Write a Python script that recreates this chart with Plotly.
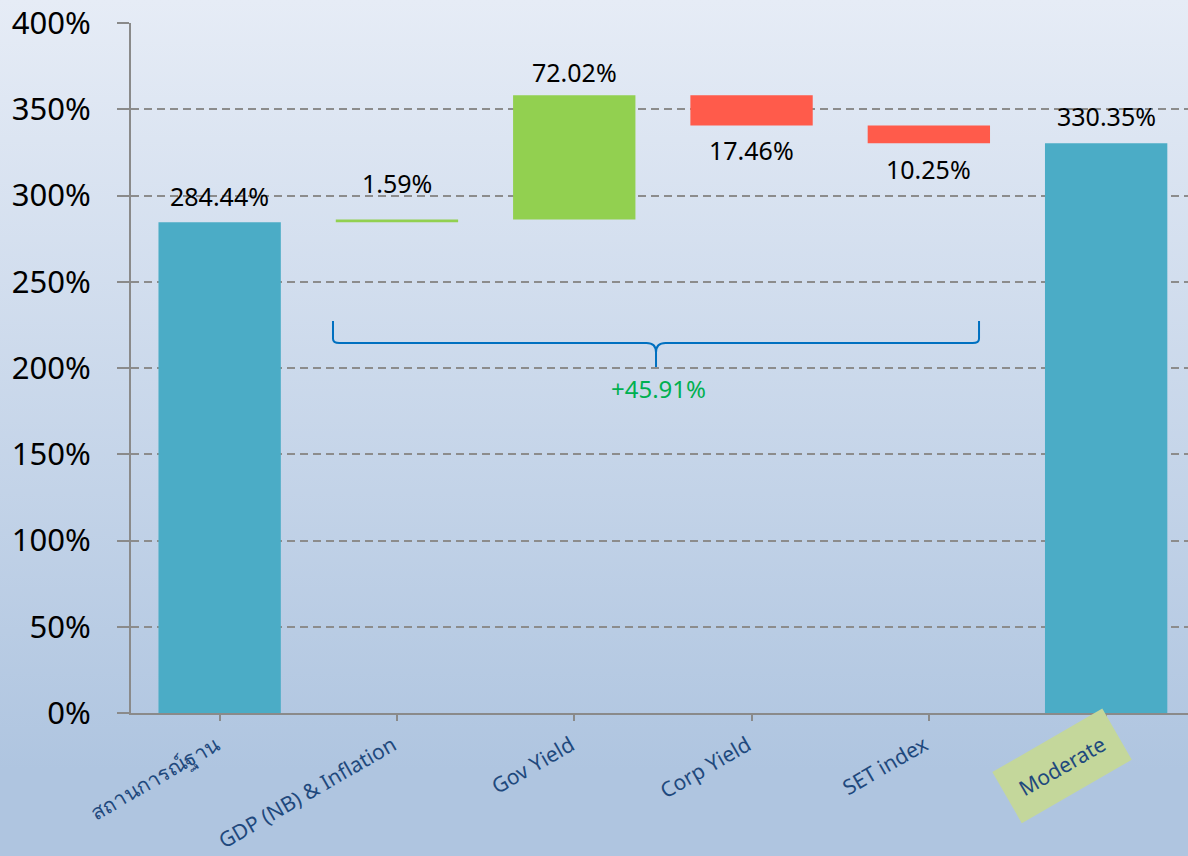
import base64
import plotly.graph_objects as go

# ---- data ----
categories = ["สถานการณ์ฐาน", "GDP (NB) & Inflation", "Gov Yield", "Corp Yield", "SET index", "Moderate"]
measures = ["absolute", "relative", "relative", "relative", "relative", "total"]
values = [284.44, 1.59, 72.02, -17.46, -10.25, 0]
value_labels = ["284.44%", "1.59%", "72.02%", "17.46%", "10.25%", "330.35%"]
y_ticks = [0, 50, 100, 150, 200, 250, 300, 350, 400]
y_tick_labels = ["0%", "50%", "100%", "150%", "200%", "250%", "300%", "350%", "400%"]
brace_label = "+45.91%"
highlight_category = "Moderate"

# ---- style ----
W, H = 1188, 856
ML, MR, MT, MB = 131, 0, 23, 143
PW, PH = W - ML - MR, H - MT - MB
FONT = "Noto Sans, Tahoma, DejaVu Sans, sans-serif"
TEAL, GREEN, RED = "#4BACC6", "#92D050", "#FF5B4B"
AXIS = "#8A8A8A"
LABEL_BLUE = "#1F497D"
label_offsets_px = [26, 37, 23, 25, 26, 27]   # distance of value label centre from bar end

fig = go.Figure()
fig.add_trace(go.Waterfall(
    x=categories, y=values, measure=measures,
    width=0.69,
    increasing=dict(marker=dict(color=GREEN, line=dict(width=0))),
    decreasing=dict(marker=dict(color=RED, line=dict(width=0))),
    totals=dict(marker=dict(color=TEAL, line=dict(width=0))),
    connector=dict(visible=False),
    textinfo="none", hoverinfo="skip", showlegend=False,
))

# value labels placed at bar ends computed from the data
annotations = []
running = 0.0
for cat, m, v, lab, off in zip(categories, measures, values, value_labels, label_offsets_px):
    if m == "absolute":
        running = v
        end, down = v, False
    elif m == "relative":
        running += v
        end, down = running, v < 0
    else:
        end, down = running, False
    annotations.append(dict(
        x=cat, y=end, xref="x", yref="y", text=lab, showarrow=False,
        xanchor="center", yanchor="middle", yshift=-off if down else off,
        font=dict(family=FONT, size=25, color="black"),
    ))

# category labels (rotated)
for cat in categories:
    hl = cat == highlight_category
    pad = 15 if hl else 1
    annotations.append(dict(
        x=cat, y=0, xref="x", yref="paper", text=cat, showarrow=False,
        textangle=-30, xanchor="right", yanchor="top",
        xshift=7 + 1.366 * (pad - 1), yshift=-14 + 1.366 * (pad - 1),
        bgcolor="#C4D79B" if hl else None, borderpad=pad,
        font=dict(family=FONT, size=21, color=LABEL_BLUE),
    ))

# brace label
bx_l, bx_c, bx_r = 0.1911, 0.4967, 0.8023
by_top, by_line, by_cusp, by_tip = 227.2, 214.5, 209.0, 200.6
annotations.append(dict(
    x=bx_c + 0.002, y=by_tip, xref="paper", yref="y", text=brace_label, showarrow=False,
    xanchor="center", yanchor="top", yshift=-3,
    font=dict(family=FONT, size=24, color="#00B050"),
))

brace_path = (
    f"M {bx_l},{by_top} L {bx_l},{by_line + 2.5} Q {bx_l},{by_line} {bx_l + 0.006},{by_line} "
    f"L {bx_c - 0.009},{by_line} Q {bx_c},{by_line} {bx_c},{by_cusp} L {bx_c},{by_tip} "
    f"M {bx_c},{by_cusp} Q {bx_c},{by_line} {bx_c + 0.009},{by_line} "
    f"L {bx_r - 0.006},{by_line} Q {bx_r},{by_line} {bx_r},{by_line + 2.5} L {bx_r},{by_top}"
)

svg = (
    f'<svg xmlns="http://www.w3.org/2000/svg" width="{W}" height="{H}" preserveAspectRatio="none">'
    '<defs><linearGradient id="g" x1="0" y1="0" x2="0" y2="1">'
    '<stop offset="0" stop-color="#E6ECF6"/><stop offset="0.9" stop-color="#AFC5E0"/>'
    '<stop offset="1" stop-color="#AFC5E0"/></linearGradient></defs>'
    f'<rect width="{W}" height="{H}" fill="url(#g)"/></svg>'
)
bg_src = "data:image/svg+xml;base64," + base64.b64encode(svg.encode()).decode()

fig.update_layout(
    width=W, height=H,
    margin=dict(l=ML, r=MR, t=MT, b=MB, pad=0),
    paper_bgcolor="#CAD8EB", plot_bgcolor="rgba(0,0,0,0)",
    font=dict(family=FONT),
    images=[dict(source=bg_src, xref="paper", yref="paper",
                 x=-ML / PW, y=1 + MT / PH, sizex=W / PW, sizey=H / PH,
                 xanchor="left", yanchor="top", sizing="stretch", layer="below")],
    shapes=[dict(type="path", path=brace_path, xref="paper", yref="y",
                 line=dict(color="#0070C0", width=2), fillcolor="rgba(0,0,0,0)")],
    annotations=annotations,
    xaxis=dict(
        range=[-0.5, -0.5 + PW / 177.3], showgrid=False, zeroline=False,
        showline=True, linecolor=AXIS, linewidth=2,
        ticks="outside", ticklen=6, tickwidth=2, tickcolor=AXIS,
        showticklabels=False,
    ),
    yaxis=dict(
        range=[0, 400], tickvals=y_ticks, ticktext=y_tick_labels,
        showgrid=True, gridcolor="#8C8C8C", gridwidth=1.5, griddash="8px,5px",
        zeroline=False, showline=True, linecolor=AXIS, linewidth=2,
        ticks="outside", ticklen=12, tickwidth=2, tickcolor=AXIS,
        ticklabelstandoff=20,
        tickfont=dict(family=FONT, size=31, color="black"),
    ),
)

fig.write_html(
    "out.html",
    config={"displayModeBar": False},
    post_script="document.body.style.margin='0';document.body.style.overflow='hidden';",
)
